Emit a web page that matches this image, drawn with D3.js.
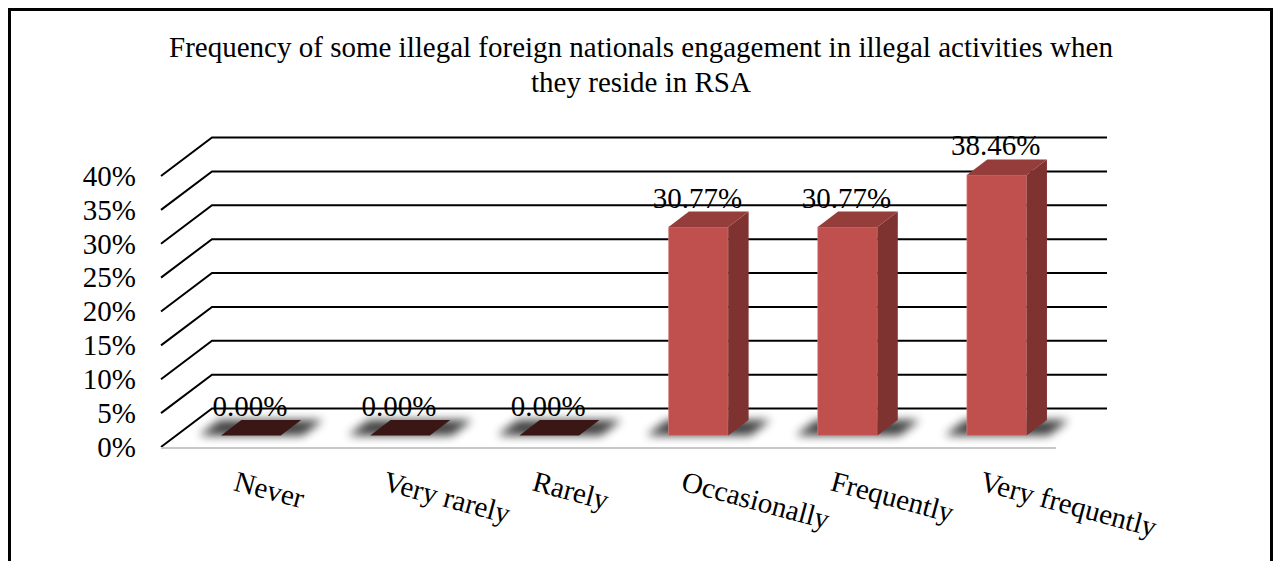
<!DOCTYPE html>
<html lang="en">
<head>
<meta charset="utf-8">
<title>Frequency of illegal activities</title>
<script src="https://cdnjs.cloudflare.com/ajax/libs/d3/7.8.5/d3.min.js"></script>
<style>
  body { margin: 0; background: #fff; }
  svg { display: block; }
</style>
</head>
<body>
<script>
// chart data
const categories = ["Never", "Very rarely", "Rarely", "Occasionally", "Frequently", "Very frequently"];
const values = [0, 0, 0, 30.77, 30.77, 38.46];
const yTicks = [0, 5, 10, 15, 20, 25, 30, 35, 40];
const titleLines = ["Frequency of some illegal foreign nationals engagement in illegal activities when",
                    "they reside in RSA"];

const w = 1278, h = 561;
const depthX = 51, depthY = 38.5;   // offset of the back wall
const dFront = 0.3, dBack = 0.7;    // bar depth inside the floor
const serif = "'Liberation Serif', serif";

const svg = d3.select("body").append("svg")
  .attr("width", w)
  .attr("height", h);

// outer frame
svg.append("rect")
  .attr("x", 9.5).attr("y", 9.5)
  .attr("width", 1262).attr("height", 600)
  .attr("fill", "none")
  .attr("stroke", "#000")
  .attr("stroke-width", 3);

// title
svg.append("text")
  .attr("x", 641).attr("y", 57)
  .attr("text-anchor", "middle")
  .attr("font-family", serif)
  .attr("font-size", 29)
  .selectAll("tspan")
  .data(titleLines)
  .enter()
  .append("tspan")
  .attr("x", 641)
  .attr("dy", (d, i) => i === 0 ? 0 : 35)
  .text(d => d);

const x = d3.scaleBand()
  .domain(categories)
  .range([161, 1056])
  .paddingInner(0.6)
  .paddingOuter(0.3);

const y = d3.scaleLinear()
  .domain([0, 40])
  .range([447, 176]);

// blur for the floor shadows
const defs = svg.append("defs");
defs.append("filter")
  .attr("id", "shadow")
  .attr("x", "-50%").attr("y", "-100%")
  .attr("width", "200%").attr("height", "300%")
  .append("feGaussianBlur")
  .attr("stdDeviation", 5);

// gridlines: left wall diagonal + back wall line
svg.append("g")
  .selectAll("path")
  .data(yTicks)
  .enter()
  .append("path")
  .attr("d", d => "M161," + y(d) + "L" + (161 + depthX) + "," + (y(d) - depthY) +
                  "L1107," + (y(d) - depthY))
  .attr("fill", "none")
  .attr("stroke", "#000")
  .attr("stroke-width", 2);

// floor front edge
svg.append("line")
  .attr("x1", 161).attr("x2", 1056)
  .attr("y1", y(0) + 1).attr("y2", y(0) + 1)
  .attr("stroke", "#c8c8c8")
  .attr("stroke-width", 2);

// y axis labels
const yAxis = d3.axisLeft(y)
  .tickValues(yTicks)
  .tickFormat(d => d + "%")
  .tickSize(0)
  .tickPadding(25);

svg.append("g")
  .attr("transform", "translate(161,0)")
  .call(yAxis)
  .call(g => g.select(".domain").remove())
  .attr("font-family", serif)
  .attr("font-size", 29)
  .selectAll("text")
  .attr("fill", "#000");

// point on a plane at depth d (0 = front, 1 = back)
function pt(px, v, d) {
  return [px + d * depthX, y(v) - d * depthY];
}
function poly(points) {
  return "M" + points.map(p => p.join(",")).join("L") + "Z";
}

const bw = x.bandwidth();
const bars = svg.append("g")
  .selectAll("g")
  .data(categories.map((c, i) => ({ cat: c, val: values[i] })))
  .enter()
  .append("g");

// soft shadow on the floor
bars.append("path")
  .attr("d", d => {
    const x0 = x(d.cat) - 22, x1 = x(d.cat) + bw + 22;
    return poly([pt(x0, 0, dFront), pt(x1, 0, dFront), pt(x1, 0, dBack), pt(x0, 0, dBack)]);
  })
  .attr("fill", "#000")
  .attr("opacity", 0.75)
  .attr("filter", "url(#shadow)");

// front face
bars.filter(d => d.val > 0)
  .append("path")
  .attr("d", d => {
    const x0 = x(d.cat), x1 = x(d.cat) + bw;
    return poly([pt(x0, 0, dFront), pt(x1, 0, dFront), pt(x1, d.val, dFront), pt(x0, d.val, dFront)]);
  })
  .attr("fill", "#c0504d")
  .attr("stroke", "#d88a88")
  .attr("stroke-width", 0.6);

// side face
bars.filter(d => d.val > 0)
  .append("path")
  .attr("d", d => {
    const x1 = x(d.cat) + bw;
    return poly([pt(x1, 0, dFront), pt(x1, 0, dBack), pt(x1, d.val, dBack), pt(x1, d.val, dFront)]);
  })
  .attr("fill", "#7f3331");

// top face (dark slab when the value is zero)
bars.append("path")
  .attr("d", d => {
    const x0 = x(d.cat), x1 = x(d.cat) + bw;
    return poly([pt(x0, d.val, dFront), pt(x1, d.val, dFront), pt(x1, d.val, dBack), pt(x0, d.val, dBack)]);
  })
  .attr("fill", d => d.val > 0 ? "#953d3a" : "#3a1615");

// value labels
bars.append("text")
  .attr("x", d => x(d.cat) + bw / 2 + dFront * depthX - 1)
  .attr("y", d => y(d.val) - dBack * depthY - 4)
  .attr("text-anchor", "middle")
  .attr("font-family", serif)
  .attr("font-size", 29)
  .text(d => d.val.toFixed(2) + "%");

// category labels, rotated
svg.append("g")
  .selectAll("text")
  .data(categories)
  .enter()
  .append("text")
  .attr("transform", d => "translate(" + (x(d) + bw / 2 - 3) + ",490) rotate(15)")
  .attr("font-family", serif)
  .attr("font-size", 29)
  .text(d => d);
</script>
</body>
</html>
